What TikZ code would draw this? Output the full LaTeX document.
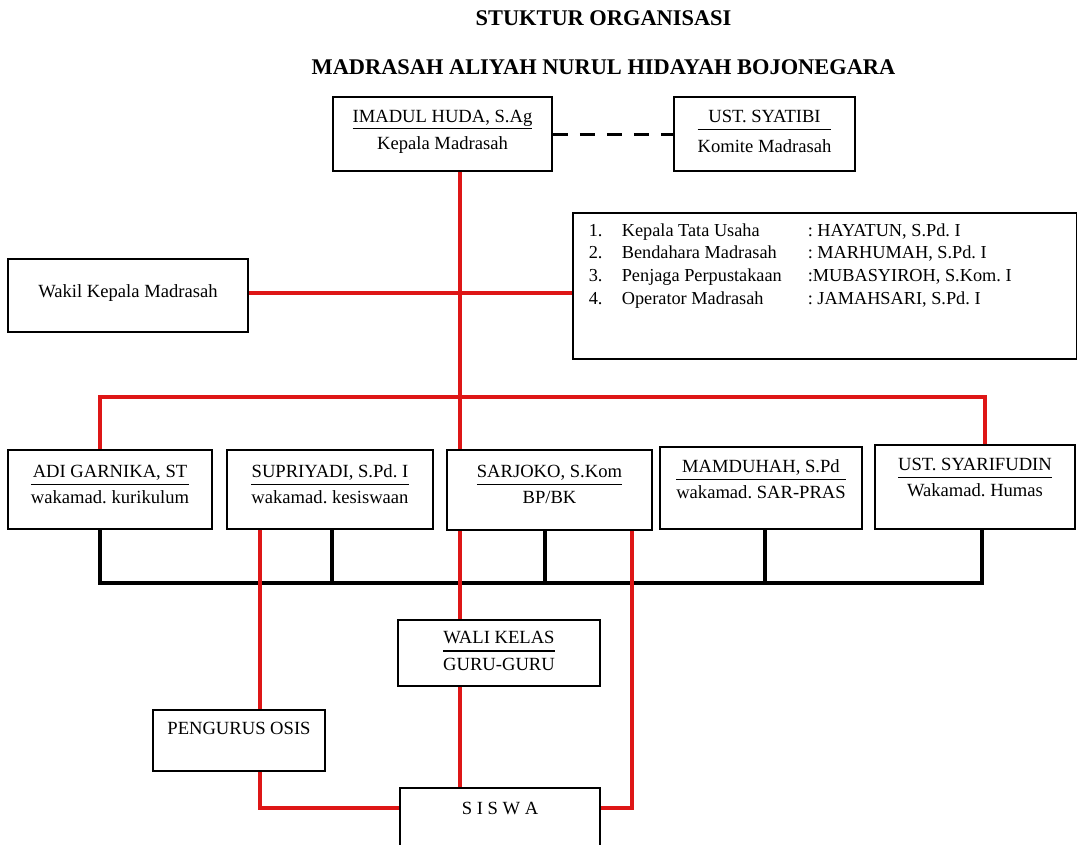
\documentclass[tikz,border=0pt]{standalone}
\usepackage{fontspec}
\setmainfont{Liberation Serif}
\usepackage{tikz}
\definecolor{merahgaris}{RGB}{222,22,22}
\setlength{\arrayrulewidth}{1.2pt}
\newcommand{\ruang}[1]{\rule[-#1]{0pt}{#1}}
\newcommand{\jabatan}[3][0pt]{\begin{tabular}{@{}c@{}}#2\\\hline\rule{0pt}{19pt}#3\ruang{#1}\end{tabular}}

\begin{document}
\frenchspacing
\begin{tikzpicture}[x=1pt,y=-1pt,
	kotak/.style={draw,line width=1.6pt,inner sep=0pt,align=center,font=\fontsize{18.6}{21.5}\selectfont},
	merah/.style={draw=merahgaris,line width=4pt},
	hitam/.style={draw=black,line width=3.5pt},
	judul/.style={font=\fontsize{22.4}{26}\selectfont\bfseries}]
\clip (0,0) rectangle (1077,844);
\node[judul] (judul1) at (603.5,18) {STUKTUR ORGANISASI};
\node[judul] (judul2) at (603.5,67) {MADRASAH ALIYAH NURUL HIDAYAH BOJONEGARA};
% pimpinan
\node[kotak,minimum width=219,minimum height=74] (kepala) at (442.5,134) {\underline{IMADUL HUDA, S.Ag}\\[6pt]Kepala Madrasah\ruang{8pt}};
\node[kotak,minimum width=181,minimum height=74] (komite) at (764.5,134) {\jabatan[8pt]{UST. SYATIBI}{\rule{0pt}{22pt}Komite Madrasah}};
\node[kotak,minimum width=240,minimum height=73] (wakil) at (128,295.5) {Wakil Kepala Madrasah\ruang{8pt}};
\node[kotak,anchor=north west,minimum width=504,minimum height=146,font=\fontsize{18.3}{22.7}\selectfont] (tu) at (572,212) {%
\begin{tabular}{@{}p{33pt}@{}p{186pt}@{}p{253pt}@{}}
1. & Kepala Tata Usaha & : HAYATUN, S.Pd. I\\
2. & Bendahara Madrasah & : MARHUMAH, S.Pd. I\\
3. & Penjaga Perpustakaan & :MUBASYIROH, S.Kom. I\\
4. & Operator Madrasah & : JAMAHSARI, S.Pd. I\ruang{47pt}
\end{tabular}};
% wakamad
\node[kotak,minimum width=204,minimum height=79] (adi) at (110,489.5) {\jabatan[13pt]{ADI GARNIKA, ST}{wakamad. kurikulum}};
\node[kotak,minimum width=206,minimum height=79] (supri) at (330,489.5) {\jabatan[13pt]{SUPRIYADI, S.Pd. I}{wakamad. kesiswaan}};
\node[kotak,minimum width=205,minimum height=80] (sarjoko) at (549.5,490) {\jabatan[14pt]{SARJOKO, S.Kom}{BP/BK}};
\node[kotak,minimum width=202,minimum height=82] (mamduh) at (761,488) {\jabatan[20pt]{MAMDUHAH, S.Pd}{wakamad. SAR-PRAS}};
\node[kotak,minimum width=200,minimum height=84] (syarif) at (975,487) {\jabatan[22pt]{UST. SYARIFUDIN}{Wakamad. Humas}};
% bawah
\node[kotak,minimum width=202,minimum height=66] (wali) at (499,653) {\jabatan{WALI KELAS}{GURU-GURU}};
\node[kotak,minimum width=172,minimum height=61] (osis) at (239,740.5) {PENGURUS OSIS\ruang{24pt}};
\node[kotak,minimum width=200,minimum height=80] (siswa) at (500,828) {S I S W A\ruang{40pt}};
% garis
\coordinate (pusat) at (460,0);
\draw[line width=3pt,dash pattern=on 15pt off 12pt] (kepala.east) -- (komite.west);
\draw[merah] (kepala.south -| pusat) -- (sarjoko.north -| pusat);
\draw[merah] (wakil.east |- 0,293) -- (tu.west |- 0,293);
\draw[merah] (adi.north -| 100,0) |- (985,397) -- (syarif.north -| 985,0);
\draw[hitam] (adi.south -| 100,0) |- (982,583) -- (syarif.south -| 982,0);
\foreach \n/\x in {supri/332,sarjoko/545,mamduh/765}
	\draw[hitam] (\n.south -| \x,0) -- (\x,583);
\draw[merah] (supri.south -| 260,0) -- (osis.north -| 260,0);
\draw[merah] (osis.south -| 260,0) |- (siswa.west |- 0,808);
\draw[merah] (sarjoko.south -| pusat) -- (wali.north -| pusat);
\draw[merah] (wali.south -| pusat) -- (siswa.north -| pusat);
\draw[merah] (sarjoko.south -| 632,0) |- (siswa.east |- 0,808);
\end{tikzpicture}
\end{document}
